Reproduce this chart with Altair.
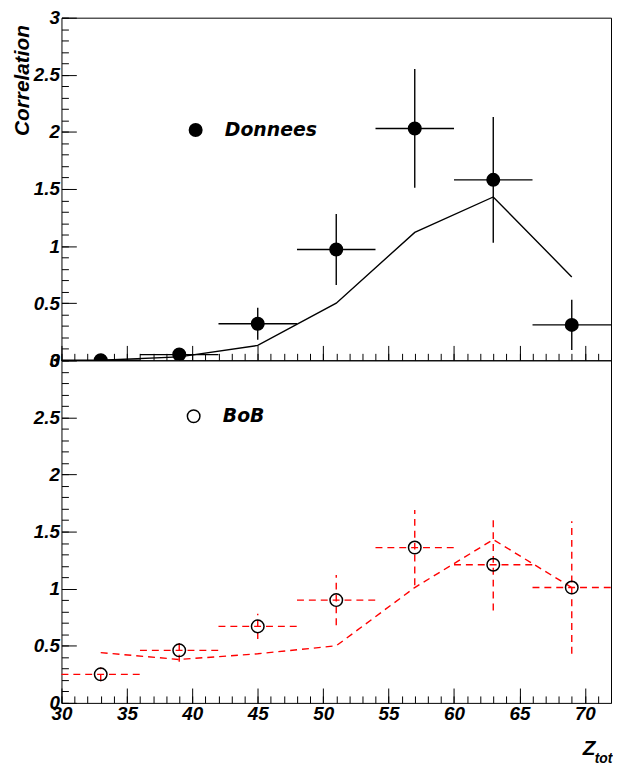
import altair as alt
import pandas as pd

# ---- data ----
zbins = [33, 39, 45, 51, 57, 63, 69]
zhalf = [3, 3, 3, 3, 3, 3, 3]

donnees = [0.0, 0.05, 0.32, 0.97, 2.03, 1.58, 0.31]
donnees_err = [0.0, 0.01, 0.14, 0.31, 0.52, 0.55, 0.22]
donnees_model = [0.0, 0.03, 0.13, 0.50, 1.12, 1.43, 0.73]

bob = [0.25, 0.46, 0.67, 0.90, 1.36, 1.21, 1.01]
bob_err = [0.06, 0.10, 0.11, 0.22, 0.33, 0.40, 0.58]
bob_model = [0.44, 0.38, 0.43, 0.50, 1.01, 1.43, 1.01]

x_major = [30, 35, 40, 45, 50, 55, 60, 65, 70]
x_minor = list(range(30, 73))
y_major = [0, 0.5, 1, 1.5, 2, 2.5, 3]
y_minor = [round(i * 0.1, 1) for i in range(31)]

FONT = "Liberation Sans"
LEG_FONT = "DejaVu Sans"
W, H = 555, 346


def make_df(vals, errs, model, name):
    return pd.DataFrame({
        "z": zbins,
        "zlo": [z - h for z, h in zip(zbins, zhalf)],
        "zhi": [z + h for z, h in zip(zbins, zhalf)],
        "c": vals,
        "clo": [v - e for v, e in zip(vals, errs)],
        "chi": [v + e for v, e in zip(vals, errs)],
        "model": model,
        "series": [name] * len(zbins),
    })


def panel(df, name, color, dash, filled, bottom, legend_x, legend_y):
    xs = alt.Scale(domain=[30, 72], nice=False, zero=False)
    ys = alt.Scale(domain=[0, 3], nice=False, zero=False)
    common = dict(domain=False, grid=False, labelFlush=False, labelOverlap=False,
                  tickColor="black", tickWidth=1, format="~g")
    if bottom:
        major_x = alt.Axis(orient="bottom", values=x_major, tickSize=15, offset=-15,
                           labels=True, labelPadding=2, title="Z", titleX=526,
                           titleY=67, titleAlign="left", titleBaseline="alphabetic",
                           titleFontSize=21, **common)
        minor_x = alt.Axis(orient="bottom", values=x_minor, tickSize=7, offset=-7,
                           labels=False, title="tot", titleX=538, titleY=67,
                           titleAlign="left", titleBaseline="alphabetic",
                           titleFontSize=14, **common)
        major_y = alt.Axis(orient="left", values=y_major, tickSize=15, offset=-15,
                           labels=True, labelPadding=2, title=None, **common)
    else:
        major_x = alt.Axis(orient="bottom", values=x_major, tickSize=15, offset=-15,
                           labels=False, title=None, **common)
        minor_x = alt.Axis(orient="bottom", values=x_minor, tickSize=7, offset=-7,
                           labels=False, title=None, **common)
        major_y = alt.Axis(orient="left", values=y_major, tickSize=15, offset=-15,
                           labels=True, labelPadding=2, title="Correlation",
                           titleAngle=270, titleX=-48, titleY=7, titleAlign="right",
                           titleBaseline="alphabetic", titleFontSize=21, **common)
    minor_y = alt.Axis(orient="left", values=y_minor, tickSize=7, offset=-7,
                       labels=False, title=None, **common)

    base = alt.Chart(df)
    rule_kw = dict(color=color, strokeWidth=1.4)
    if dash:
        rule_kw["strokeDash"] = dash

    xbars = base.mark_rule(**rule_kw).encode(
        x=alt.X("zlo:Q", scale=xs, axis=major_x),
        x2="zhi:Q",
        y=alt.Y("c:Q", scale=ys, axis=major_y),
    )
    ybars = base.mark_rule(**rule_kw).encode(
        x=alt.X("z:Q", scale=xs, axis=minor_x),
        y=alt.Y("clo:Q", scale=ys, axis=minor_y),
        y2="chi:Q",
    )
    line = base.mark_line(**rule_kw).encode(
        x=alt.X("z:Q", scale=xs, axis=None),
        y=alt.Y("model:Q", scale=ys, axis=None),
    )
    pt_kw = dict(filled=filled, size=200 if filled else 160, opacity=1, clip=True)
    if not filled:
        pt_kw["strokeWidth"] = 1.5
    points = base.mark_point(**pt_kw).encode(
        x=alt.X("z:Q", scale=xs, axis=None),
        y=alt.Y("c:Q", scale=ys, axis=None),
        color=alt.Color("series:N",
                        scale=alt.Scale(domain=[name], range=["black"]),
                        legend=alt.Legend(orient="none", legendX=legend_x,
                                          legendY=legend_y, title=None,
                                          padding=0, labelOffset=20,
                                          symbolSize=200 if filled else 160,
                                          symbolStrokeWidth=1.5,
                                          symbolType="circle",
                                          labelFont=LEG_FONT, labelFontSize=19,
                                          labelFontStyle="italic",
                                          labelFontWeight="bold",
                                          labelColor="black")),
    )
    return (alt.layer(xbars, ybars, line, points)
            .resolve_axis(x="independent", y="independent")
            .properties(width=W, height=H))


top = panel(make_df(donnees, donnees_err, donnees_model, "Donnees"), "Donnees",
            "black", None, True, False, 126, 104)
bot = panel(make_df(bob, bob_err, bob_model, "BoB"), "BoB",
            "#ff0000", [7, 5], False, True, 124, 47)

chart = (alt.vconcat(top, bot, spacing=0, bounds="flush")
         .resolve_scale(color="independent")
         .resolve_legend(color="independent")
         .properties(padding={"left": 3, "top": -4, "right": 0, "bottom": 0})
         .configure_view(stroke="black", strokeWidth=1)
         .configure_axis(labelFont=FONT, labelFontSize=19, labelFontStyle="italic",
                         labelFontWeight="bold", labelColor="black",
                         titleFont=FONT, titleFontStyle="italic",
                         titleFontWeight="bold", titleColor="black"))

chart.save("out.html", embed_options={"renderer": "svg", "actions": False})
